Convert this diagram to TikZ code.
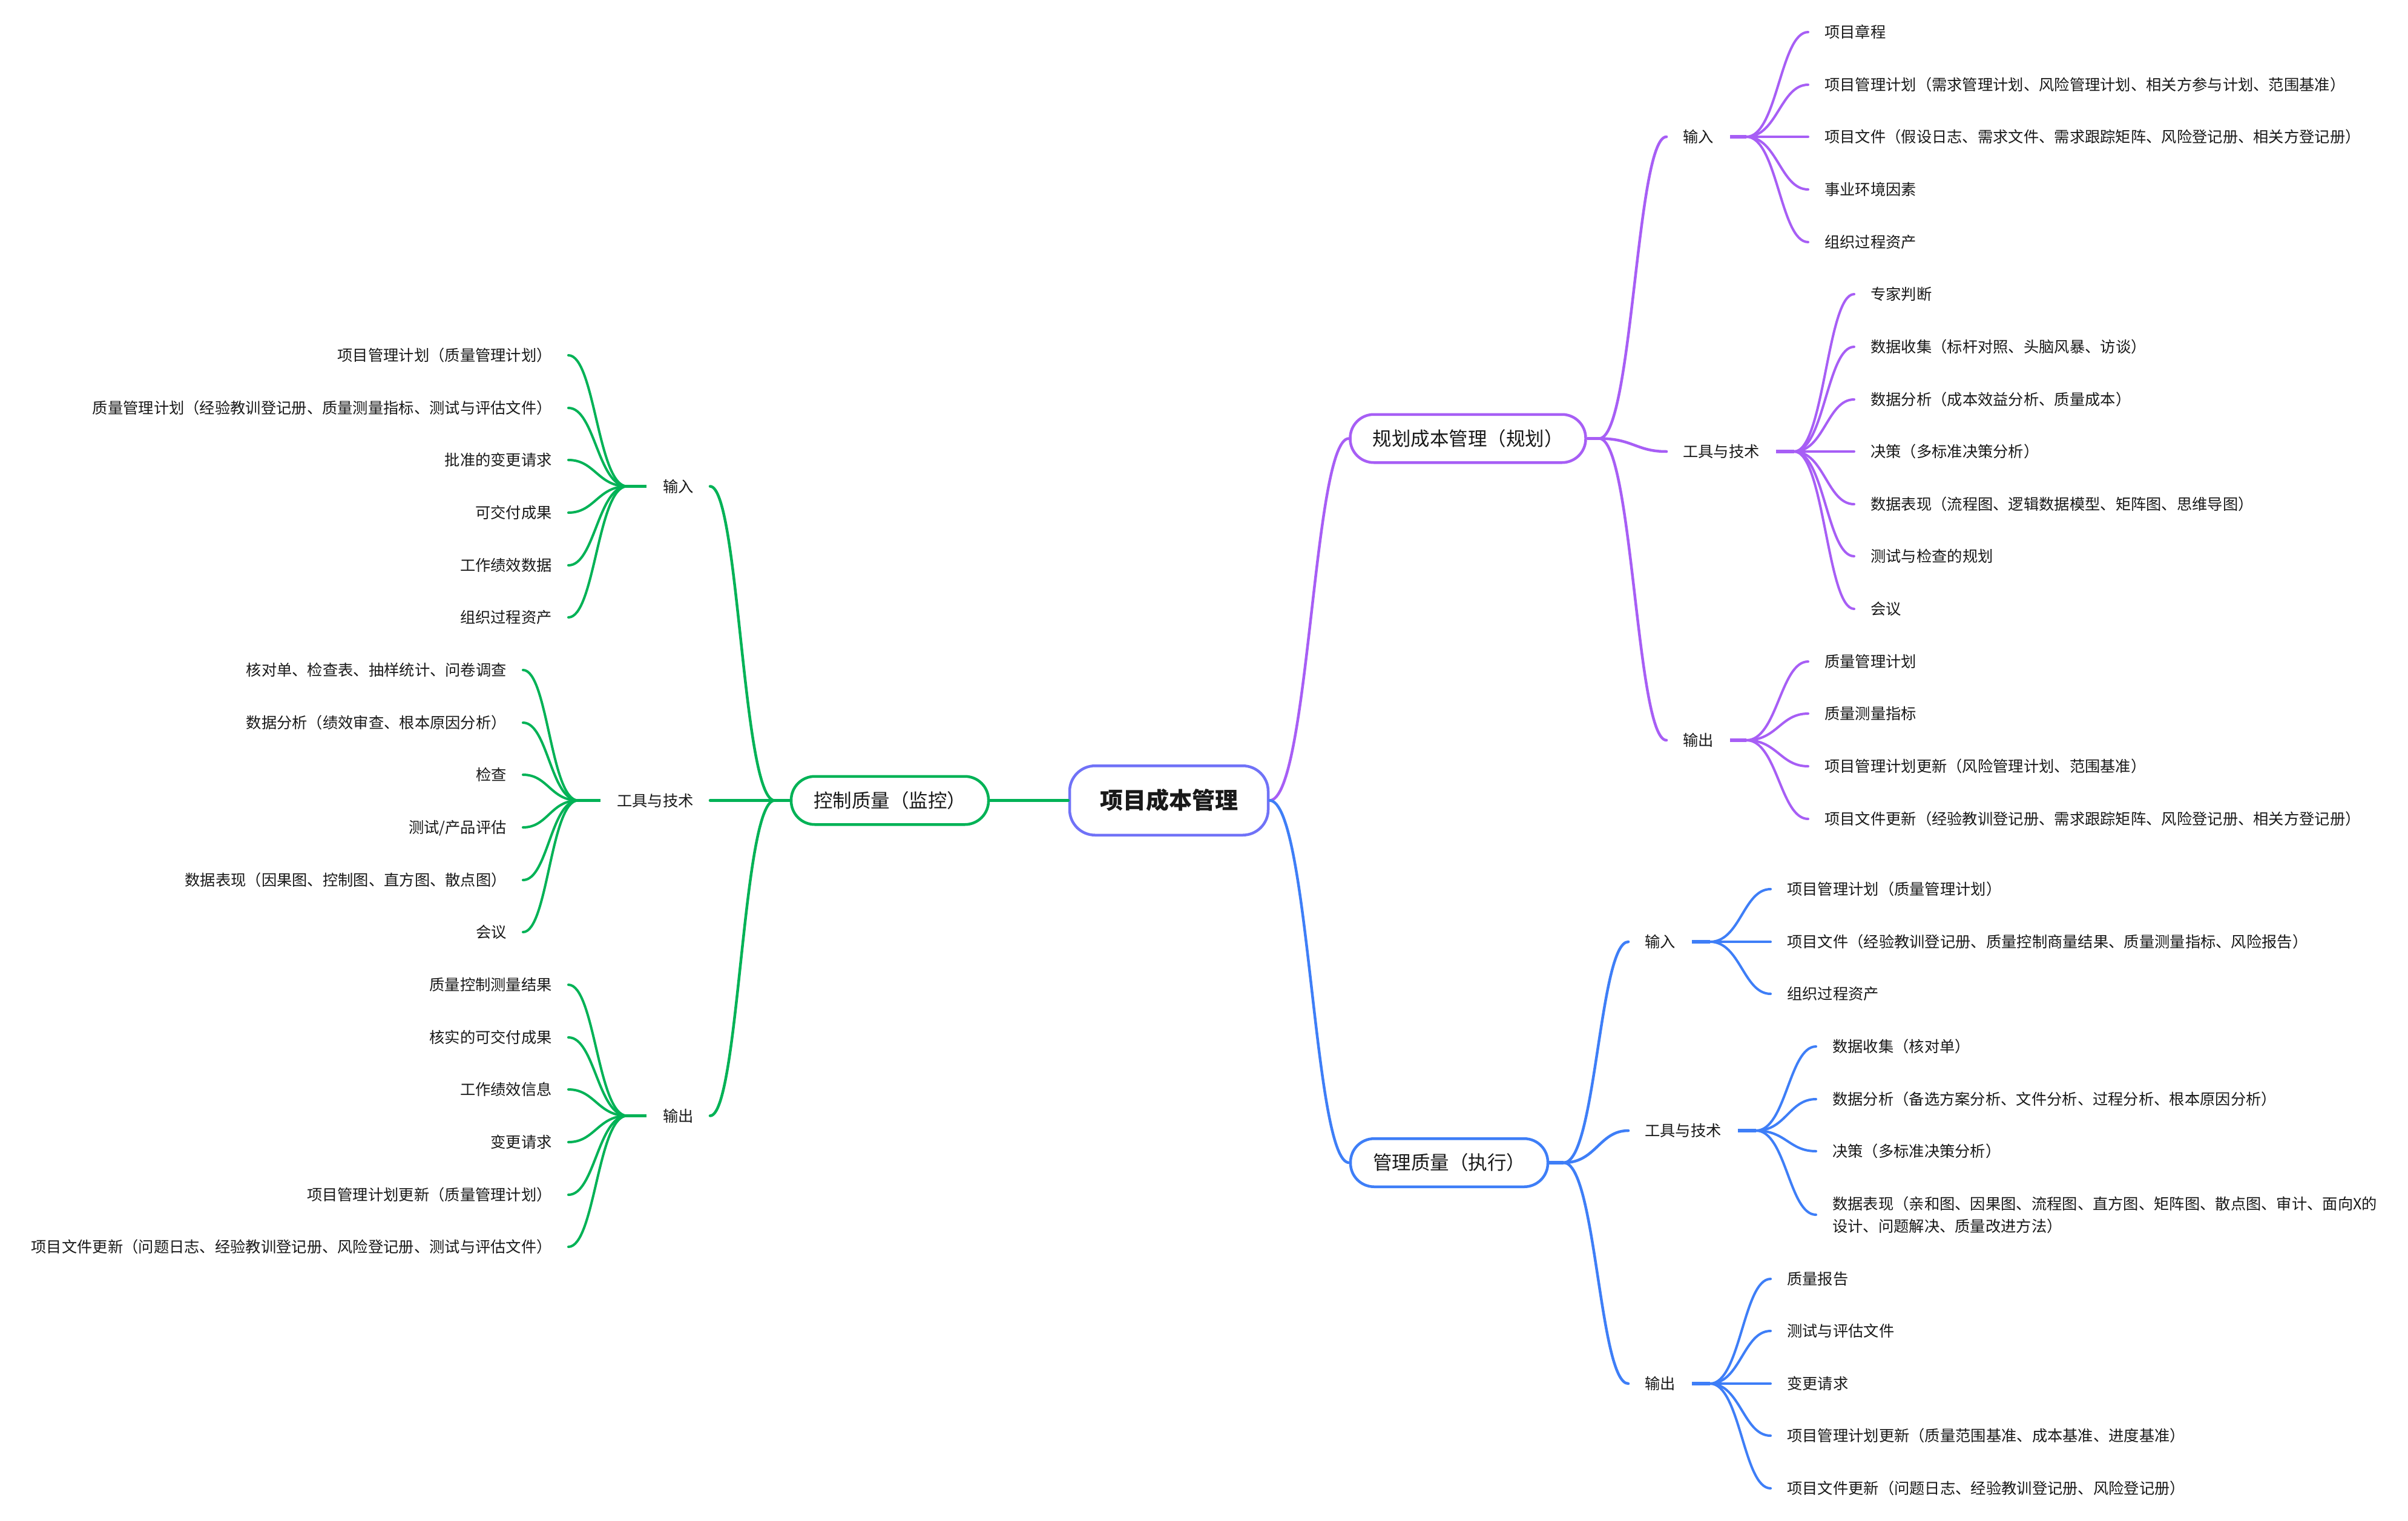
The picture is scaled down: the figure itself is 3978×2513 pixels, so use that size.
\documentclass[tikz,border=0pt]{standalone}
\usepackage{fontspec}
\setmainfont{Noto Sans CJK SC}
\usetikzlibrary{calc}

\definecolor{purp}{RGB}{167,94,245}
\definecolor{blu}{RGB}{62,126,247}
\definecolor{grn}{RGB}{0,178,86}
\definecolor{rootc}{RGB}{112,114,247}
\definecolor{ink}{RGB}{25,25,25}

\tikzset{
  scurve/.style={to path={let \p1=(\tikztostart), \p2=(\tikztotarget) in
      .. controls ({0.5*\x1+0.5*\x2},\y1) and ({0.45*\x1+0.55*\x2},\y2) .. (\tikztotarget)}},
  roottopic/.style={draw=rootc, line width=4.5, rounded corners=42, fill=white,
      minimum height=114.5, inner xsep=50, text=ink,
      font=\fontsize{38}{46}\selectfont\bfseries},
  maintopic/.style={line width=4.5, rounded corners=39, fill=white,
      minimum height=79.5, inner xsep=37, text=ink,
      font=\fontsize{31.5}{38}\selectfont},
  subtopic/.style={inner xsep=27, inner ysep=0, text height=22, text depth=3,
      text=ink, font=\fontsize{25.3}{37}\selectfont},
  leaf/.style={inner xsep=27, inner ysep=0, text height=22, text depth=3,
      text=ink, font=\fontsize{25.3}{37}\selectfont},
  leaftwo/.style={inner xsep=27, inner ysep=0, align=left,
      text=ink, font=\fontsize{25.3}{37}\selectfont},
  limb/.style={line width=4.5, line cap=round},
  stub/.style={line width=5.5},
  twig/.style={line width=4, line cap=round},
}

\begin{document}
\begin{tikzpicture}[x=1pt,y=-1pt]
\useasboundingbox (0,0) rectangle (3978,2513);
\fill[white] (0,0) rectangle (3978,2513);

% central and main topics
\node[roottopic] (root) at (1931,1322.5) {项目成本管理};
\node[maintopic, draw=purp] (plan) at (2425,724.5) {规划成本管理（规划）};
\node[maintopic, draw=blu] (exec) at (2394,1921) {管理质量（执行）};
\node[maintopic, draw=grn] (ctrl) at (1470,1322.5) {控制质量（监控）};

\draw[limb,purp] (root.east) to[scurve] (plan.west);
\draw[limb,blu] (root.east) to[scurve] (exec.west);
\draw[limb,grn] (root.west) -- (ctrl.east);

% ---- planning branch (purple) ----
\node[subtopic, anchor=west] (pI) at (2753,226) {输入};
\node[subtopic, anchor=west] (pT) at (2753,746) {工具与技术};
\node[subtopic, anchor=west] (pO) at (2753,1223) {输出};
\coordinate (planj) at ([xshift=20]plan.east);
\draw[stub,purp] (plan.east) -- (planj);
\foreach \m in {pI,pT,pO} \draw[limb,purp] (planj) to[scurve] (\m.west);

\node[leaf, anchor=west] (pi1) at (2987,53) {项目章程};
\node[leaf, anchor=west] (pi2) at (2987,140) {项目管理计划（需求管理计划、风险管理计划、相关方参与计划、范围基准）};
\node[leaf, anchor=west] (pi3) at (2987,226) {项目文件（假设日志、需求文件、需求跟踪矩阵、风险登记册、相关方登记册）};
\node[leaf, anchor=west] (pi4) at (2987,313) {事业环境因素};
\node[leaf, anchor=west] (pi5) at (2987,400) {组织过程资产};

\node[leaf, anchor=west] (pt1) at (3063,486) {专家判断};
\node[leaf, anchor=west] (pt2) at (3063,573) {数据收集（标杆对照、头脑风暴、访谈）};
\node[leaf, anchor=west] (pt3) at (3063,660) {数据分析（成本效益分析、质量成本）};
\node[leaf, anchor=west] (pt4) at (3063,746) {决策（多标准决策分析）};
\node[leaf, anchor=west] (pt5) at (3063,833) {数据表现（流程图、逻辑数据模型、矩阵图、思维导图）};
\node[leaf, anchor=west] (pt6) at (3063,919) {测试与检查的规划};
\node[leaf, anchor=west] (pt7) at (3063,1006) {会议};

\node[leaf, anchor=west] (po1) at (2987,1093) {质量管理计划};
\node[leaf, anchor=west] (po2) at (2987,1179) {质量测量指标};
\node[leaf, anchor=west] (po3) at (2987,1266) {项目管理计划更新（风险管理计划、范围基准）};
\node[leaf, anchor=west] (po4) at (2987,1353) {项目文件更新（经验教训登记册、需求跟踪矩阵、风险登记册、相关方登记册）};

\coordinate (pIj) at ([xshift=27]pI.east);
\coordinate (pTj) at ([xshift=30]pT.east);
\coordinate (pOj) at ([xshift=27]pO.east);
\draw[stub,purp] (pI.east) -- (pIj);
\draw[stub,purp] (pT.east) -- (pTj);
\draw[stub,purp] (pO.east) -- (pOj);
\foreach \k in {1,...,5} \draw[twig,purp] (pIj) to[scurve] (pi\k.west);
\foreach \k in {1,...,7} \draw[twig,purp] (pTj) to[scurve] (pt\k.west);
\foreach \k in {1,...,4} \draw[twig,purp] (pOj) to[scurve] (po\k.west);

% ---- managing branch (blue) ----
\node[subtopic, anchor=west] (bI) at (2690,1556) {输入};
\node[subtopic, anchor=west] (bT) at (2690,1868) {工具与技术};
\node[subtopic, anchor=west] (bO) at (2690,2286) {输出};
\coordinate (execj) at ([xshift=24]exec.east);
\draw[stub,blu] (exec.east) -- (execj);
\foreach \m in {bI,bT,bO} \draw[limb,blu] (execj) to[scurve] (\m.west);

\node[leaf, anchor=west] (bi1) at (2925,1469) {项目管理计划（质量管理计划）};
\node[leaf, anchor=west] (bi2) at (2925,1556) {项目文件（经验教训登记册、质量控制商量结果、质量测量指标、风险报告）};
\node[leaf, anchor=west] (bi3) at (2925,1642) {组织过程资产};

\node[leaf, anchor=west] (bt1) at (3000,1729) {数据收集（核对单）};
\node[leaf, anchor=west] (bt2) at (3000,1816) {数据分析（备选方案分析、文件分析、过程分析、根本原因分析）};
\node[leaf, anchor=west] (bt3) at (3000,1902) {决策（多标准决策分析）};
\node[leaftwo, anchor=west] (bt4) at (3000,2007) {数据表现（亲和图、因果图、流程图、直方图、矩阵图、散点图、审计、面向X的\\设计、问题解决、质量改进方法）};

\node[leaf, anchor=west] (bo1) at (2925,2113) {质量报告};
\node[leaf, anchor=west] (bo2) at (2925,2199) {测试与评估文件};
\node[leaf, anchor=west] (bo3) at (2925,2286) {变更请求};
\node[leaf, anchor=west] (bo4) at (2925,2372) {项目管理计划更新（质量范围基准、成本基准、进度基准）};
\node[leaf, anchor=west] (bo5) at (2925,2459) {项目文件更新（问题日志、经验教训登记册、风险登记册）};

\coordinate (bIj) at ([xshift=30]bI.east);
\coordinate (bTj) at ([xshift=30]bT.east);
\coordinate (bOj) at ([xshift=30]bO.east);
\draw[stub,blu] (bI.east) -- (bIj);
\draw[stub,blu] (bT.east) -- (bTj);
\draw[stub,blu] (bO.east) -- (bOj);
\foreach \k in {1,...,3} \draw[twig,blu] (bIj) to[scurve] (bi\k.west);
\foreach \k in {1,...,4} \draw[twig,blu] (bTj) to[scurve] (bt\k.west);
\foreach \k in {1,...,5} \draw[twig,blu] (bOj) to[scurve] (bo\k.west);

% ---- controlling branch (green) ----
\node[subtopic, anchor=east] (gI) at (1173,803.5) {输入};
\node[subtopic, anchor=east] (gT) at (1173,1322.5) {工具与技术};
\node[subtopic, anchor=east] (gO) at (1173,1843.5) {输出};
\coordinate (ctrlj) at ([xshift=-25]ctrl.west);
\draw[stub,grn] (ctrl.west) -- (ctrlj);
\foreach \m in {gI,gT,gO} \draw[limb,grn] (ctrlj) to[scurve] (\m.east);

\node[leaf, anchor=east] (gi1) at (939,587) {项目管理计划（质量管理计划）};
\node[leaf, anchor=east] (gi2) at (939,674) {质量管理计划（经验教训登记册、质量测量指标、测试与评估文件）};
\node[leaf, anchor=east] (gi3) at (939,760) {批准的变更请求};
\node[leaf, anchor=east] (gi4) at (939,847) {可交付成果};
\node[leaf, anchor=east] (gi5) at (939,934) {工作绩效数据};
\node[leaf, anchor=east] (gi6) at (939,1020) {组织过程资产};

\node[leaf, anchor=east] (gt1) at (864,1107) {核对单、检查表、抽样统计、问卷调查};
\node[leaf, anchor=east] (gt2) at (864,1194) {数据分析（绩效审查、根本原因分析）};
\node[leaf, anchor=east] (gt3) at (864,1280) {检查};
\node[leaf, anchor=east] (gt4) at (864,1367) {测试/产品评估};
\node[leaf, anchor=east] (gt5) at (864,1454) {数据表现（因果图、控制图、直方图、散点图）};
\node[leaf, anchor=east] (gt6) at (864,1540) {会议};

\node[leaf, anchor=east] (go1) at (939,1627) {质量控制测量结果};
\node[leaf, anchor=east] (go2) at (939,1714) {核实的可交付成果};
\node[leaf, anchor=east] (go3) at (939,1800) {工作绩效信息};
\node[leaf, anchor=east] (go4) at (939,1887) {变更请求};
\node[leaf, anchor=east] (go5) at (939,1974) {项目管理计划更新（质量管理计划）};
\node[leaf, anchor=east] (go6) at (939,2060) {项目文件更新（问题日志、经验教训登记册、风险登记册、测试与评估文件）};

\coordinate (gIj) at ([xshift=-32]gI.west);
\coordinate (gTj) at ([xshift=-37]gT.west);
\coordinate (gOj) at ([xshift=-32]gO.west);
\draw[stub,grn] (gI.west) -- (gIj);
\draw[stub,grn] (gT.west) -- (gTj);
\draw[stub,grn] (gO.west) -- (gOj);
\foreach \k in {1,...,6} \draw[twig,grn] (gIj) to[scurve] (gi\k.east);
\foreach \k in {1,...,6} \draw[twig,grn] (gTj) to[scurve] (gt\k.east);
\foreach \k in {1,...,6} \draw[twig,grn] (gOj) to[scurve] (go\k.east);
\end{tikzpicture}
\end{document}
